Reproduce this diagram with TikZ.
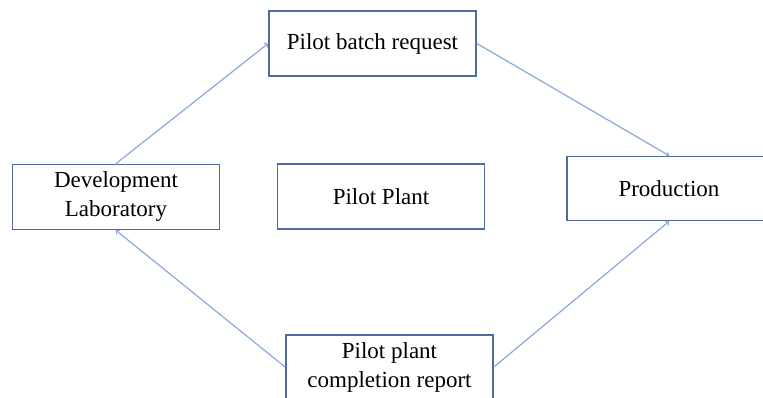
\documentclass[tikz,border=0pt]{standalone}
\usepackage{fontspec}
\setmainfont{Liberation Serif}
\usetikzlibrary{shapes,arrows,positioning}

\definecolor{boxblue}{RGB}{79,108,160}
\definecolor{arrowblue}{RGB}{135,170,218}

\begin{document}
\begin{tikzpicture}[x=1pt, y=-1pt, auto]
    % Define styles
    \tikzstyle{stage}=[rectangle,draw=boxblue,line width=1.8pt,fill=white,minimum width=207pt,minimum height=65pt,align=center,font=\fontsize{23}{29}\selectfont]
    \tikzstyle{line}=[draw=arrowblue, line width=1.2pt, ->]

    \useasboundingbox (0,0) rectangle (763,398);

    % Stages
    \node [stage] (request) at (372.5,43.5) {Pilot batch request};
    \node [stage] (devlab) at (116,197) {Development\\Laboratory};
    \node [stage] (pilotplant) at (381,196.5) {Pilot Plant};
    \node [stage, minimum width=204pt, minimum height=64pt] (production) at (669,188.5) {Production};
    \node [stage, minimum height=64pt] (report) at (389.5,367) {Pilot plant\\completion report};

    % Define connections
    \path [line] (devlab.north) -- (request.west);
    \path [line] (request.east) -- (production.north);
    \path [line] (report.west) -- (devlab.south);
    \path [line] (report.east) -- (production.south);
\end{tikzpicture}
\end{document}
